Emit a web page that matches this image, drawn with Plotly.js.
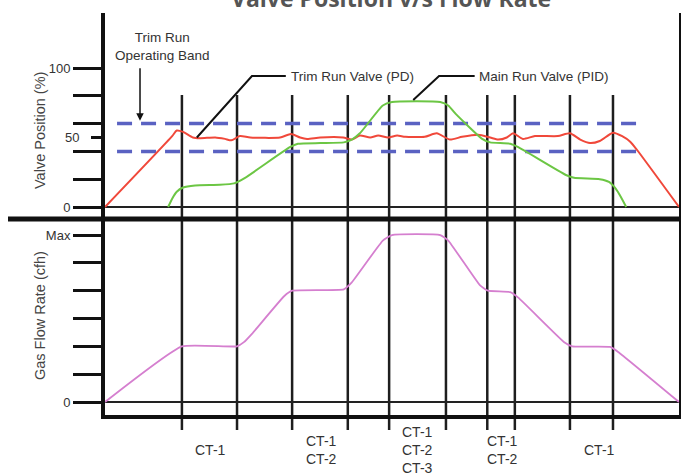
<!DOCTYPE html>
<html>
<head>
<meta charset="utf-8">
<script src="https://cdn.plot.ly/plotly-3.0.1.min.js"></script>
<style>
html, body { margin: 0; padding: 0; background: #fff; }
#chart { width: 681px; height: 475px; }
</style>
</head>
<body>
<div id="chart"></div>
<script>
// ---- data (normalised time 0-100) ----
const trimTime  = [0, 11.7, 12.5, 13.6, 15.3, 16.6, 19.2, 20.9, 22.0, 23.5, 25.3, 30.5, 32.4, 34.0, 35.2, 37.5, 41.5, 43.0, 44.4, 46.2, 47.6, 49.3, 50.9, 52.3, 55.7, 57.8, 60.1, 62.2, 65.0, 67.1, 68.5, 70.0, 71.1, 72.8, 74.9, 78.9, 81.0, 82.8, 84.5, 86.2, 88.5, 90.1, 91.5, 92.7, 100];
const trimValve = [0, 51, 55, 54, 50, 49.5, 50, 49, 48, 51, 50, 50, 52.5, 50, 49, 50, 50, 48.5, 51.5, 50, 51.5, 50, 51.5, 50.5, 50.5, 53, 48.5, 50.5, 52, 50, 48.5, 50, 53, 49, 51, 51, 53, 48.5, 46, 47.5, 53.5, 51, 47, 41, 0];

const mainTime  = [11.0, 11.7, 12.5, 13.6, 15.7, 20.0, 22.5, 24.4, 32.2, 33.6, 37.5, 41.6, 43.0, 44.4, 48.4, 50.0, 58.4, 59.8, 61.1, 65.7, 67.1, 70.6, 72.0, 80.3, 81.7, 86.2, 87.8, 89.0, 89.9, 90.8];
const mainValve = [0, 6, 11, 14, 15.5, 16, 17, 21, 43, 45.5, 46, 46.5, 48.5, 53, 73, 75.5, 75.5, 73, 67, 49, 46.5, 45.5, 43, 23, 21, 20, 18, 13, 7, 0];

const flowTime = [0, 13.4, 23.0, 24.2, 25.6, 31.2, 32.6, 41.6, 43.0, 48.4, 50.0, 58.4, 59.8, 65.3, 66.7, 70.6, 72.0, 80.0, 81.4, 88.0, 89.4, 100];
const flowRate = [0, 2, 2, 2.15, 2.45, 3.8, 4, 4.05, 4.3, 5.8, 6, 6, 5.8, 4.2, 4, 3.95, 3.75, 2.15, 2, 1.98, 1.8, 0];

const bandLimits = [60, 40];
const bandTime = [2.1, 93.0];

const transitionTimes = [13.4, 23.0, 32.6, 42.3, 49.5, 59.4, 66.6, 71.4, 81.0, 88.5];
const stageLabels = ['CT-1', 'CT-1<br>CT-2', 'CT-1<br>CT-2<br>CT-3', 'CT-1<br>CT-2', 'CT-1'];
const stageLabelTime = [18.3, 37.8, 54.5, 69.2, 86.2];

const valveTickVals = [0, 20, 40, 60, 80, 100];
const valveTickText = ['0', '', '', '', '', '100'];
const valveMidTick = 50;
const flowTickVals = [0, 1, 2, 3, 4, 5, 6];
const flowTickText = ['0', '', '', '', '', '', 'Max'];

// ---- helpers for layout placement ----
const W = 681, H = 475;
const px = v => v / W;
const py = v => 1 - v / H;
const FONT = 'Liberation Sans, Arial, Helvetica, sans-serif';
const INK = '#111';

const traces = [];
bandLimits.forEach(b => {
  traces.push({
    type: 'scatter', mode: 'lines', x: bandTime, y: bandTime.map(() => b),
    xaxis: 'x', yaxis: 'y', hoverinfo: 'skip',
    line: { color: '#5a62c2', width: 3.5, dash: '15px,9px' }
  });
});
traces.push({
  type: 'scatter', mode: 'lines', name: 'Trim Run Valve (PD)',
  x: trimTime, y: trimValve, xaxis: 'x', yaxis: 'y',
  line: { color: '#f0483a', width: 2, shape: 'spline', smoothing: 0.6 }
});
traces.push({
  type: 'scatter', mode: 'lines', name: 'Main Run Valve (PID)',
  x: mainTime, y: mainValve, xaxis: 'x', yaxis: 'y',
  line: { color: '#6cc644', width: 2, shape: 'spline', smoothing: 0.5 }
});
traces.push({
  type: 'scatter', mode: 'lines', name: 'Gas Flow Rate',
  x: flowTime, y: flowRate, xaxis: 'x', yaxis: 'y2',
  line: { color: '#d57fcf', width: 1.8, shape: 'spline', smoothing: 0.4 }
});

const shapes = [];
shapes.push({ type: 'line', xref: 'paper', yref: 'paper', x0: px(8), x1: 1, y0: py(219), y1: py(219),
  line: { color: INK, width: 5 } });
// short tick at 50 %
shapes.push({ type: 'line', xref: 'paper', yref: 'y', x0: px(91), x1: px(104), y0: valveMidTick, y1: valveMidTick,
  line: { color: INK, width: 3 } });
transitionTimes.forEach(t => {
  shapes.push({ type: 'line', xref: 'x', yref: 'paper', x0: t, x1: t, y0: py(430), y1: py(95),
    layer: 'below', line: { color: '#1e1e1e', width: 2.5 } });
});
shapes.push({ type: 'path', xref: 'x', yref: 'y', path: 'M 16.0,50 L 25.6,94.2 L 31.5,94.2',
  line: { color: INK, width: 2 } });
shapes.push({ type: 'path', xref: 'x', yref: 'y', path: 'M 53.7,77 L 58.2,94.2 L 64.4,94.2',
  line: { color: INK, width: 2 } });

const annotations = [
  { text: '<b>Valve Position v/s Flow Rate</b>', xref: 'paper', yref: 'paper', x: px(391), y: py(-2),
    xanchor: 'center', yanchor: 'middle', showarrow: false,
    font: { family: 'Open Sans, Liberation Sans, sans-serif', size: 23, color: '#555' } },
  { text: 'Trim Run<br>Operating Band', xref: 'paper', yref: 'paper', x: px(162), y: py(46.5),
    xanchor: 'center', yanchor: 'middle', showarrow: false,
    font: { family: FONT, size: 13.5, color: '#333' } },
  { text: '', xref: 'x', yref: 'y', x: 6.1, y: 62, ax: 0, ay: -54, showarrow: true,
    arrowhead: 2, arrowsize: 1, arrowwidth: 1.5, arrowcolor: INK },
  { text: 'Trim Run Valve (PD)', xref: 'x', yref: 'y', x: 32.0, y: 94.2, xanchor: 'left', yanchor: 'middle',
    showarrow: false, font: { family: FONT, size: 13.5, color: '#333' } },
  { text: 'Main Run Valve (PID)', xref: 'x', yref: 'y', x: 64.8, y: 94.2, xanchor: 'left', yanchor: 'middle',
    showarrow: false, font: { family: FONT, size: 13.5, color: '#333' } },
  { text: 'Valve Position (%)', xref: 'paper', yref: 'paper', x: px(40), y: py(131), textangle: -90,
    xanchor: 'center', yanchor: 'middle', showarrow: false, font: { family: FONT, size: 14.5, color: '#444' } },
  { text: 'Gas Flow Rate (cfh)', xref: 'paper', yref: 'paper', x: px(40), y: py(316), textangle: -90,
    xanchor: 'center', yanchor: 'middle', showarrow: false, font: { family: FONT, size: 14.5, color: '#444' } },
  { text: String(valveMidTick), xref: 'paper', yref: 'y', x: px(81), y: valveMidTick, xanchor: 'right', yanchor: 'middle',
    showarrow: false, font: { family: FONT, size: 13, color: '#333' } }
];
stageLabels.forEach((s, i) => {
  annotations.push({ text: s, xref: 'x', yref: 'paper', x: stageLabelTime[i], y: py(450),
    xanchor: 'center', yanchor: 'middle', showarrow: false,
    font: { family: FONT, size: 14, color: '#333' } });
});

const tickFont = { family: FONT, size: 13, color: '#333' };

const layout = {
  width: W, height: H,
  margin: { l: 0, r: 0, t: 0, b: 0 },
  paper_bgcolor: '#fff', plot_bgcolor: 'rgba(0,0,0,0)',
  showlegend: false,
  xaxis: { domain: [px(105), px(679)], range: [0, 100], anchor: 'y2',
    showline: true, linewidth: 4, linecolor: INK, showgrid: false, zeroline: false,
    ticks: '', showticklabels: false, fixedrange: true },
  yaxis: { domain: [py(219), py(13)], range: [(207 - 219) / 1.39, (207 - 13) / 1.39], anchor: 'x',
    showline: true, linewidth: 4, linecolor: INK, mirror: true, showgrid: false,
    zeroline: true, zerolinecolor: '#222', zerolinewidth: 2,
    tickmode: 'array', tickvals: valveTickVals, ticktext: valveTickText,
    ticks: 'outside', ticklen: 28, tickwidth: 3, tickcolor: INK, tickfont: tickFont,
    fixedrange: true },
  yaxis2: { domain: [py(415), py(219)], range: [(402 - 415) / 27.83, (402 - 219) / 27.83], anchor: 'x',
    showline: true, linewidth: 4, linecolor: INK, mirror: true, showgrid: false,
    zeroline: true, zerolinecolor: '#222', zerolinewidth: 2,
    tickmode: 'array', tickvals: flowTickVals, ticktext: flowTickText,
    ticks: 'outside', ticklen: 28, tickwidth: 3, tickcolor: INK, tickfont: tickFont,
    fixedrange: true },
  shapes: shapes,
  annotations: annotations
};

Plotly.newPlot('chart', traces, layout, { displayModeBar: false, staticPlot: true });
</script>
</body>
</html>
